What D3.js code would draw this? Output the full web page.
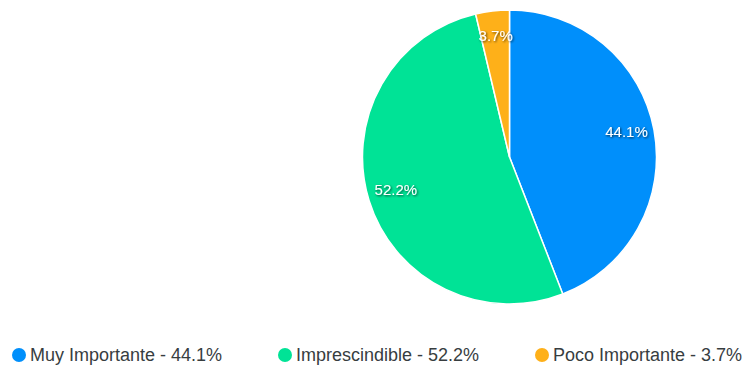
<!DOCTYPE html>
<html>
<head>
<meta charset="utf-8">
<script src="https://cdn.jsdelivr.net/npm/d3@7"></script>
<style>
  body { margin: 0; background: #fff; }
  svg { display: block; font-family: "Liberation Sans", Helvetica, Arial, sans-serif; }
</style>
</head>
<body>
<svg id="chart" width="751" height="372"></svg>
<script>
const categories = ["Muy Importante", "Imprescindible", "Poco Importante"];
const values = [44.1, 52.2, 3.7];
const colors = ["#008FFB", "#00E396", "#FEB019"];
const legendX = [19, 285, 542];

const svg = d3.select("#chart");
const cx = 509.5, cy = 157, r = 147;

const defs = svg.append("defs");
const f = defs.append("filter").attr("id", "shadow")
    .attr("x", "-20%").attr("y", "-40%").attr("width", "140%").attr("height", "180%");
f.append("feDropShadow").attr("dx", 1).attr("dy", 1).attr("stdDeviation", 1)
    .attr("flood-color", "#000").attr("flood-opacity", 0.7);

const data = categories.map((c, i) => ({name: c, value: values[i], color: colors[i]}));
const pie = d3.pie().sort(null).value(d => d.value);
const arcs = pie(data);
const arc = d3.arc().innerRadius(0).outerRadius(r);
const labelArc = d3.arc().innerRadius(r * 0.81).outerRadius(r * 0.81);

const g = svg.append("g").attr("transform", `translate(${cx},${cy})`);

g.selectAll("path.slice")
  .data(arcs)
  .join("path")
    .attr("class", "slice")
    .attr("d", arc)
    .attr("fill", d => d.data.color)
    .attr("stroke", "#fff")
    .attr("stroke-width", 1.5);

g.selectAll("text.label")
  .data(arcs)
  .join("text")
    .attr("class", "label")
    .attr("transform", d => `translate(${labelArc.centroid(d)})`)
    .attr("text-anchor", "middle")
    .attr("dy", "0.15em")
    .attr("fill", "#fff")
    .attr("font-size", 15)
    .attr("filter", "url(#shadow)")
    .text(d => d.data.value.toFixed(1) + "%");

const legend = svg.append("g").selectAll("g")
  .data(data)
  .join("g")
    .attr("transform", (d, i) => `translate(${legendX[i]},355)`);

legend.append("circle")
    .attr("r", 7)
    .attr("fill", d => d.color);

legend.append("text")
    .attr("x", 11)
    .attr("dy", "0.35em")
    .attr("font-size", 18)
    .attr("fill", "#373d3f")
    .text(d => `${d.name} - ${d.value}%`);
</script>
</body>
</html>
